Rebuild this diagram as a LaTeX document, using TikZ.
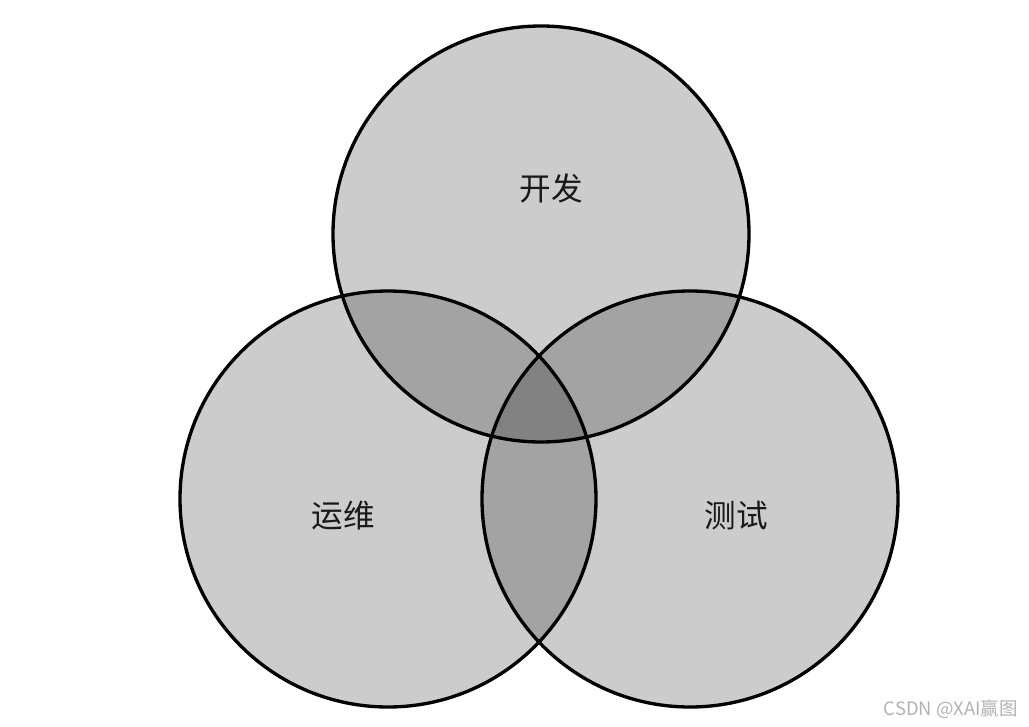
\documentclass[tikz,border=0pt]{standalone}
\usepackage{fontspec}
\newfontfamily\cjk{Noto Sans CJK SC}
\usetikzlibrary{positioning}

\begin{document}
\begin{tikzpicture}[
  x=0.2mm, y=-0.2mm,
  venn/.style={circle, draw, line width=1.9pt, minimum size=83.2mm,
               fill=black, fill opacity=0.2, inner sep=0pt},
  tag/.style={font=\cjk\fontsize{18}{21}\selectfont, text=black!90},
  wmark/.style={font=\fontsize{10.5}{12}\selectfont\cjk, text=black!30},
]
  \useasboundingbox (0,0) rectangle (1029,727);

  % three circles
  \node[venn] (dev) at (541,234) {};
  \node[venn] (ops) at (388,499) {};
  \node[venn] (qa)  at (690,499) {};

  % labels
  \node[tag] (devlab) at (551,188) {开发};
  \node[tag] (opslab) at (343,516) {运维};
  \node[tag] (qalab)  at (736,516) {测试};

  \node[wmark, anchor=east] (wm) at (1024,709) {CSDN @XAI赢图};
\end{tikzpicture}
\end{document}
